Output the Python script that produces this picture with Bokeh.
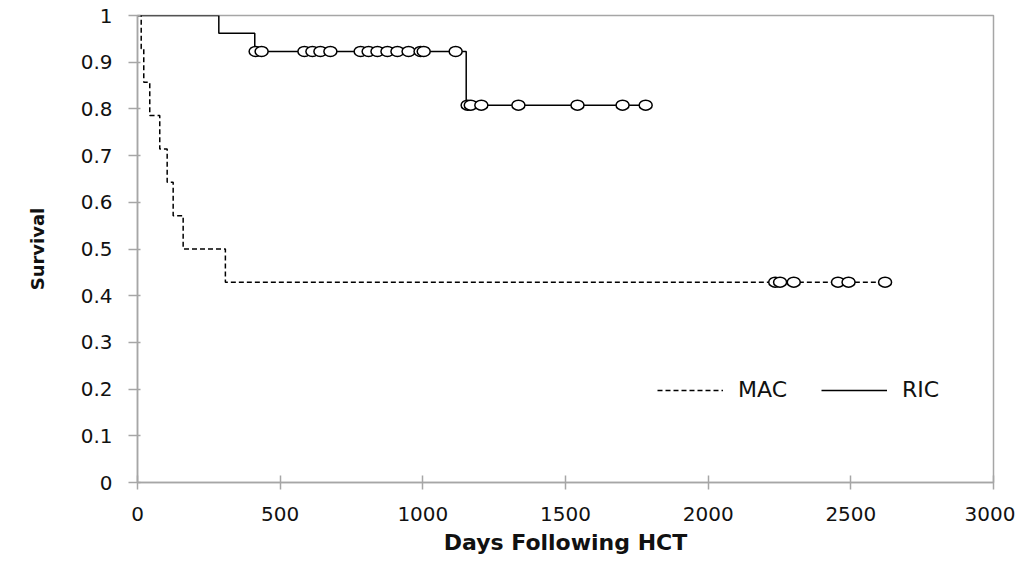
from bokeh.plotting import figure
from bokeh.models import Range1d, FixedTicker, Legend, LegendItem
from bokeh.embed import file_html
from bokeh.resources import INLINE

# ---- data ----
mac_event_days = [13, 22, 43, 78, 104, 125, 160, 308]
mac_event_surv = [0.929, 0.857, 0.786, 0.714, 0.643, 0.571, 0.5, 0.429]
mac_censor_days = [2235, 2252, 2300, 2455, 2492, 2620]

ric_event_days = [285, 411, 1152]
ric_event_surv = [0.962, 0.923, 0.808]
ric_censor_days = [414, 435, 585, 613, 641, 676, 782, 810, 841, 876, 911,
                   950, 992, 1003, 1115, 1157, 1168, 1205, 1335, 1542, 1700, 1781]

x_ticks = [0, 500, 1000, 1500, 2000, 2500, 3000]
y_ticks = [0, 0.1, 0.2, 0.3, 0.4, 0.5, 0.6, 0.7, 0.8, 0.9, 1]
y_tick_labels = ["0", "0.1", "0.2", "0.3", "0.4", "0.5", "0.6", "0.7", "0.8", "0.9", "1"]


def km_steps(ev_days, ev_surv, cens_days):
    xs = [0] + list(ev_days)
    ys = [1.0] + list(ev_surv)
    last = max(cens_days)
    xs.append(last)
    ys.append(ys[-1])
    return xs, ys


def surv_at(t, ev_days, ev_surv):
    s = 1.0
    for d, v in zip(ev_days, ev_surv):
        if d <= t:
            s = v
    return s


FONT = "DejaVu Sans"
GRAY = "#a6a6a6"

p = figure(width=1015, height=565, output_backend="svg", toolbar_location=None,
           x_range=Range1d(0, 3000), y_range=Range1d(0, 1),
           min_border_left=137, min_border_right=22, min_border_top=15, min_border_bottom=83)

p.grid.visible = False
p.outline_line_color = GRAY
p.outline_line_width = 1.5
p.background_fill_color = "white"
p.border_fill_color = "white"

# MAC
mx, my = km_steps(mac_event_days, mac_event_surv, mac_censor_days)
mac_line = p.step(mx, my, mode="after", line_color="black", line_width=1.5, line_dash="5 3")
mcy = [surv_at(t, mac_event_days, mac_event_surv) for t in mac_censor_days]
p.ellipse(mac_censor_days, mcy, width=13, height=10, width_units="screen", height_units="screen",
          fill_color="white", line_color="black", line_width=1.5)

# RIC
rx, ry = km_steps(ric_event_days, ric_event_surv, ric_censor_days)
ric_line = p.step(rx, ry, mode="after", line_color="black", line_width=1.5)
rcy = [surv_at(t, ric_event_days, ric_event_surv) for t in ric_censor_days]
p.ellipse(ric_censor_days, rcy, width=13, height=10, width_units="screen", height_units="screen",
          fill_color="white", line_color="black", line_width=1.5)

# axes
p.xaxis.ticker = FixedTicker(ticks=x_ticks)
p.yaxis.ticker = FixedTicker(ticks=y_ticks)
p.yaxis.major_label_overrides = {t: l for t, l in zip(y_ticks, y_tick_labels)}
for ax in (p.xaxis[0], p.yaxis[0]):
    ax.axis_line_color = GRAY
    ax.axis_line_width = 1.5
    ax.major_tick_line_color = GRAY
    ax.major_tick_line_width = 1.5
    ax.minor_tick_line_color = None
    ax.major_label_text_font = FONT
    ax.major_label_text_font_size = "20px"
    ax.major_label_text_color = "#111111"
    ax.axis_label_text_font = FONT
    ax.axis_label_text_font_style = "bold"
    ax.axis_label_text_color = "#111111"

p.xaxis.axis_label_text_font_size = "22px"
p.yaxis.axis_label_text_font_size = "18px"
p.xaxis.major_tick_in = 7
p.xaxis.major_tick_out = 7
p.yaxis.major_tick_in = 3
p.yaxis.major_tick_out = 9
p.xaxis.major_label_standoff = 17
p.yaxis.major_label_standoff = 16
p.xaxis.axis_label = "Days Following HCT"
p.yaxis.axis_label = "Survival"
p.xaxis.axis_label_standoff = 6
p.yaxis.axis_label_standoff = 30

legend = Legend(items=[LegendItem(label="MAC", renderers=[mac_line]),
                       LegendItem(label="RIC", renderers=[ric_line])],
                orientation="horizontal", location=(520, 80),
                glyph_width=66, glyph_height=22, label_standoff=15, spacing=34,
                padding=0, margin=0,
                border_line_color=None, background_fill_alpha=0,
                label_text_font=FONT, label_text_font_size="22px",
                label_text_color="#111111")
p.add_layout(legend)

open("out.html", "w").write(file_html(p, INLINE))
